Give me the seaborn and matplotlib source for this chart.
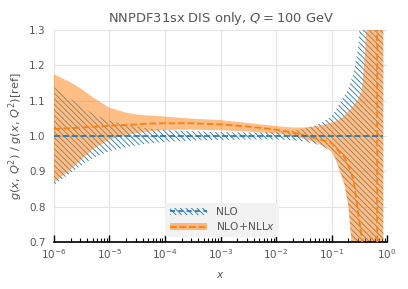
import numpy as np
import matplotlib
matplotlib.use("Agg")
import matplotlib.pyplot as plt
import matplotlib.ticker as mticker
import seaborn as sns
from matplotlib.patches import Patch
from matplotlib.lines import Line2D

# x grid
x = [1e-6, 2e-6, 3e-6, 5e-6, 1e-5, 2e-5, 3e-5, 5e-5, 1e-4, 3e-4, 1e-3, 3e-3, 1e-2,
     0.02, 0.03, 0.05, 0.07, 0.1, 0.12, 0.14, 0.17, 0.2, 0.25, 0.3, 0.35, 0.4,
     0.45, 0.5, 0.55, 0.64, 0.68, 0.78, 0.85]
xticks = [1e-6, 1e-5, 1e-4, 1e-3, 1e-2, 1e-1, 1e0]

# NLO band (ratio to itself)
nlo_central = [1.0] * len(x)
nlo_upper = [1.139, 1.105, 1.085, 1.063, 1.043, 1.032, 1.027, 1.021, 1.017, 1.013, 1.011, 1.010, 1.011,
             1.015, 1.020, 1.030, 1.040, 1.056, 1.075, 1.093, 1.115, 1.135, 1.18, 1.25, 1.40, 1.60,
             1.70, 1.80, 1.80, 1.80, 1.80, 1.80, 1.80]
nlo_lower = [0.861, 0.895, 0.915, 0.937, 0.957, 0.968, 0.973, 0.979, 0.983, 0.987, 0.989, 0.990, 0.990,
             0.988, 0.985, 0.978, 0.970, 0.957, 0.935, 0.905, 0.865, 0.805, 0.63, 0.40, 0.20, 0.0,
             0.0, 0.0, 0.0, 0.0, 0.0, 0.0, 0.0]

# NLO+NLLx band
nll_central = [1.020, 1.022, 1.024, 1.026, 1.029, 1.031, 1.033, 1.035, 1.036, 1.036, 1.033, 1.027, 1.018,
               1.010, 1.003, 0.994, 0.988, 0.980, 0.967, 0.952, 0.940, 0.915, 0.875, 0.780, 0.710, 0.50,
               0.20, -0.5, -2.0, -20.0, 20.0, 5.0, 3.0]
nll_upper = [1.175, 1.152, 1.135, 1.110, 1.080, 1.066, 1.061, 1.058, 1.055, 1.049, 1.045, 1.037, 1.028,
             1.024, 1.024, 1.027, 1.032, 1.038, 1.042, 1.048, 1.058, 1.070, 1.088, 1.105, 1.13, 1.235,
             1.40, 1.50, 1.50, 1.50, 1.50, 1.50, 1.50]
nll_lower = [0.868, 0.905, 0.930, 0.962, 0.990, 1.003, 1.008, 1.013, 1.017, 1.018, 1.016, 1.013, 1.007,
             1.000, 0.993, 0.982, 0.972, 0.955, 0.930, 0.900, 0.860, 0.800, 0.62, 0.40, 0.20, 0.0,
             0.0, 0.0, 0.0, 0.0, 0.0, 0.0, 0.0]

sns.set_style("whitegrid")
txt = "#555555"
plt.rcParams.update({
    "font.family": ["DejaVu Sans"],
    "text.color": txt,
    "axes.labelcolor": txt,
    "xtick.color": txt,
    "ytick.color": txt,
    "hatch.linewidth": 0.6,
    "grid.color": "#e3e3e3",
})

fig = plt.figure(figsize=(4.08, 2.89), dpi=100)
ax = fig.add_axes([0.132, 0.163, 0.817, 0.733])

blue = "#1f77b4"
orange = "#ff7f0e"
hatch = "\\" * 6

ax.fill_between(x, nlo_lower, nlo_upper, facecolor="none", edgecolor=blue,
                hatch=hatch, linewidth=0, zorder=1)
ax.fill_between(x, nll_lower, nll_upper, facecolor=orange, alpha=0.5,
                linewidth=0, zorder=2)
sns.lineplot(x=x, y=nll_central, ax=ax, color=orange, linestyle="--", lw=1.3, zorder=3)
sns.lineplot(x=x, y=nlo_central, ax=ax, color=blue, linestyle="--", lw=1.2,
             dashes=(3, 2), zorder=4)

ax.set_xscale("log")
ax.set_xticks(xticks)
ax.xaxis.set_minor_locator(mticker.LogLocator(base=10, subs=np.arange(2, 10)))
ax.xaxis.set_minor_formatter(mticker.NullFormatter())
ax.set_xlim(1e-6, 1)
ax.set_ylim(0.7, 1.3)
ax.set_yticks([0.7, 0.8, 0.9, 1.0, 1.1, 1.2, 1.3])
ax.set_yticklabels(["0.7", "0.8", "0.9", "1.0", "1.1", "1.2", "1.3"])

for s in ["left", "right", "top"]:
    ax.spines[s].set_visible(False)
ax.spines["bottom"].set_color("black")
ax.spines["bottom"].set_linewidth(1.2)
ax.tick_params(axis="x", which="major", direction="in", length=5, width=1, color="black",
               bottom=True, labelsize=7.5, pad=4)
ax.tick_params(axis="x", which="minor", direction="in", length=3, width=0.8, color="black",
               bottom=True)
ax.tick_params(axis="y", length=0, labelsize=7.5, pad=6)
ax.grid(True, which="major", lw=0.8)
ax.grid(False, which="minor")

ax.set_title("NNPDF31sx DIS only, $Q = 100$ GeV", fontsize=9.4, color=txt, pad=6)
ax.set_xlabel("$x$", fontsize=7.5, labelpad=6)
ax.set_ylabel(r"$g(x,\,Q^2)$ / $g(x,\,Q^2)$[ref]", fontsize=8.2, labelpad=3)

h_nlo = (Patch(facecolor="none", edgecolor=blue, hatch=hatch, linewidth=0),
         Line2D([], [], color=blue, linestyle="--", lw=1.2, dashes=(3, 2)))
h_nll = (Patch(facecolor=orange, alpha=0.5, linewidth=0),
         Line2D([], [], color=orange, linestyle="--", lw=1.3))
leg = ax.legend([h_nlo, h_nll], ["NLO", "NLO+NLL$x$"], loc="lower center",
                bbox_to_anchor=(0.505, 0.0), fontsize=7.7, frameon=True,
                facecolor="#f2f2f2", edgecolor="none", framealpha=1.0,
                handlelength=3.5, borderpad=0.4, labelspacing=0.3)
for t in leg.get_texts():
    t.set_color(txt)

fig.savefig("out.png", dpi=100)
